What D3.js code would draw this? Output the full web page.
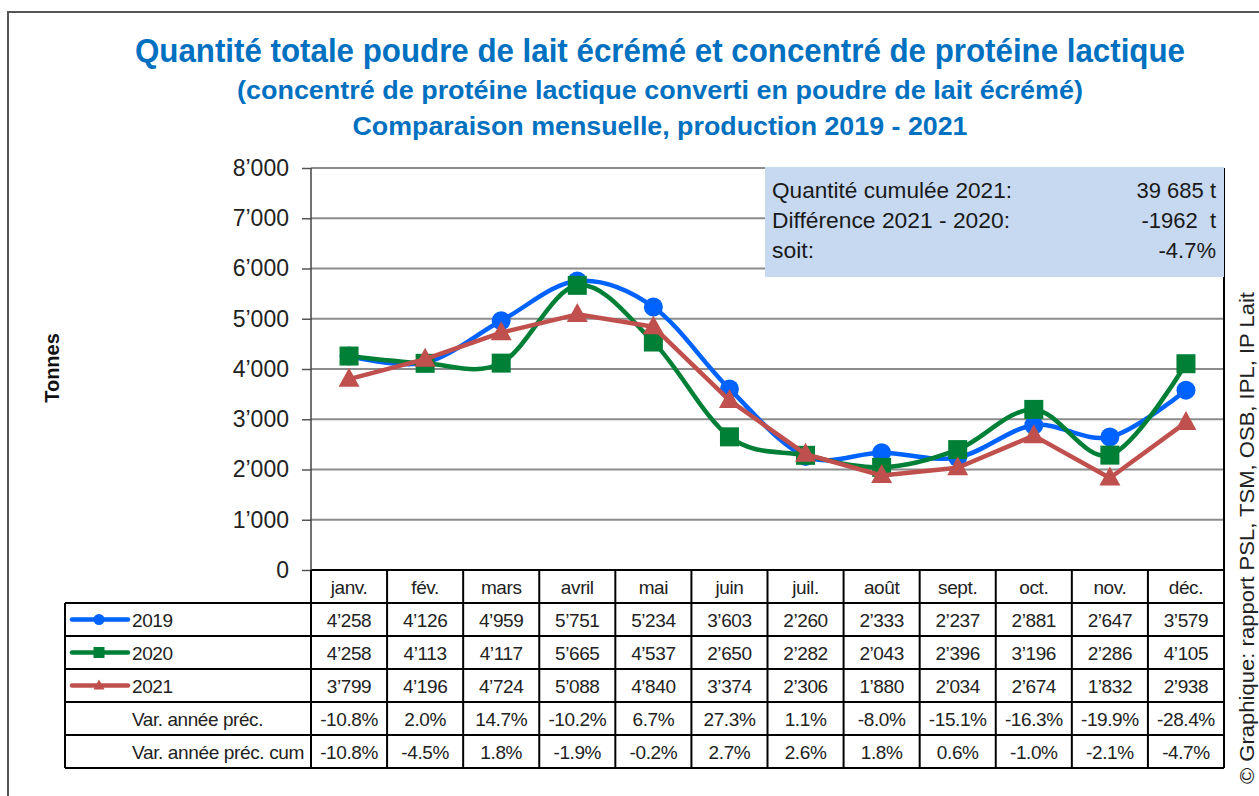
<!DOCTYPE html>
<html>
<head>
<meta charset="utf-8">
<script src="https://cdn.jsdelivr.net/npm/d3@7"></script>
<style>
  body { margin: 0; background: #fff; }
  svg { display: block; font-family: "Liberation Sans", Arial, sans-serif; }
</style>
</head>
<body>
<div id="chart"></div>
<script>
const months = ["janv.", "fév.", "mars", "avril", "mai", "juin", "juil.", "août", "sept.", "oct.", "nov.", "déc."];
const years = ["2019", "2020", "2021"];
const prod2019 = [4258, 4126, 4959, 5751, 5234, 3603, 2260, 2333, 2237, 2881, 2647, 3579];
const prod2020 = [4258, 4113, 4117, 5665, 4537, 2650, 2282, 2043, 2396, 3196, 2286, 4105];
const prod2021 = [3799, 4196, 4724, 5088, 4840, 3374, 2306, 1880, 2034, 2674, 1832, 2938];
const varPrec = [-10.8, 2.0, 14.7, -10.2, 6.7, 27.3, 1.1, -8.0, -15.1, -16.3, -19.9, -28.4];
const varCum = [-10.8, -4.5, 1.8, -1.9, -0.2, 2.7, 2.6, 1.8, 0.6, -1.0, -2.1, -4.7];
const yTicks = [0, 1000, 2000, 3000, 4000, 5000, 6000, 7000, 8000];
const titleLines = [
  "Quantité totale poudre de lait écrémé et concentré de protéine lactique",
  "(concentré de protéine lactique converti en poudre de lait écrémé)",
  "Comparaison mensuelle, production 2019 - 2021"
];
const infoLabels = ["Quantité cumulée 2021:", "Différence 2021 - 2020:", "soit:"];
const infoValues = ["39 685 t", "-1962  t", "-4.7%"];
const varLabels = ["Var. année préc.", "Var. année préc. cum"];

const series = [
  {name: years[0], values: prod2019, color: "#0062FF", shape: "circle", smooth: true},
  {name: years[1], values: prod2020, color: "#007F37", shape: "square", smooth: true},
  {name: years[2], values: prod2021, color: "#C0504D", shape: "triangle", smooth: false}
];

const W = 1259, H = 796;
const plot = {left: 311, right: 1224, top: 168, bottom: 570};
const rowH = 33;
const tableLeft = 65;
const textColor = "#222";
const titleColor = "#0070C0";

const loc = d3.formatLocale({decimal: ".", thousands: "’", grouping: [3], currency: ["", ""], minus: "-"});
const fmtInt = loc.format(",");
const fmtPct = v => loc.format(".1f")(v) + "%";

const svg = d3.select("#chart").append("svg")
  .attr("width", W).attr("height", H);

// outer frame
svg.append("path")
  .attr("d", `M8,${H} V12 H${W}`)
  .attr("fill", "none").attr("stroke", "#555").attr("stroke-width", 2);

// titles
const titleY = [62, 99, 135];
const titleSize = [33, 26, 26];
const titleW = [1050, 846, 615];
titleLines.forEach((t, i) => {
  svg.append("text")
    .attr("x", 660 - titleW[i] / 2).attr("y", titleY[i])
    .attr("textLength", titleW[i]).attr("lengthAdjust", "spacingAndGlyphs")
    .style("font-size", titleSize[i] + "px").style("font-weight", "bold")
    .style("fill", titleColor)
    .text(t);
});

const x = d3.scaleBand().domain(months).range([plot.left, plot.right]);
const y = d3.scaleLinear().domain([0, 8000]).range([plot.bottom, plot.top]);

// gridlines
svg.append("g")
  .selectAll("line").data(yTicks.filter(d => d > 0)).enter()
  .append("line")
  .attr("x1", plot.left).attr("x2", plot.right)
  .attr("y1", d => y(d)).attr("y2", d => y(d))
  .attr("stroke", "#8c8c8c").attr("stroke-width", 2);

// y axis
const yAxis = svg.append("g")
  .attr("transform", `translate(${plot.left},0)`)
  .call(d3.axisLeft(y).tickValues(yTicks).tickSize(9).tickPadding(13).tickFormat(d => fmtInt(d)));
yAxis.select(".domain").remove();
yAxis.selectAll(".tick line").attr("stroke", "#555").attr("stroke-width", 1.5);
yAxis.selectAll(".tick text")
  .style("font-size", "23px").style("fill", textColor)
  .style("font-family", "'Liberation Sans', Arial, sans-serif");

// y axis title
svg.append("text")
  .attr("transform", "translate(59,368) rotate(-90)")
  .attr("text-anchor", "middle")
  .style("font-size", "20px").style("font-weight", "bold").style("fill", "#111")
  .text("Tonnes");

// copyright
svg.append("text")
  .attr("transform", "translate(1254,784) rotate(-90)")
  .attr("textLength", 492).attr("lengthAdjust", "spacingAndGlyphs")
  .style("font-size", "20px").style("fill", textColor)
  .text("© Graphique: rapport PSL, TSM, OSB, IPL, IP Lait");

// table
const tableTop = plot.bottom;
const rows = 6; // header + 5
const tableBottom = tableTop + rowH * rows;
const tg = svg.append("g").attr("class", "table").style("letter-spacing", "-0.4px");
// horizontal lines of the body
d3.range(1, rows + 1).forEach(r => {
  tg.append("line")
    .attr("x1", tableLeft).attr("x2", plot.right)
    .attr("y1", tableTop + r * rowH).attr("y2", tableTop + r * rowH)
    .attr("stroke", "#000").attr("stroke-width", 2);
});
tg.append("line")
  .attr("x1", plot.left).attr("x2", plot.right)
  .attr("y1", tableTop).attr("y2", tableTop)
  .attr("stroke", "#000").attr("stroke-width", 2);
// vertical lines
months.forEach(m => {
  tg.append("line")
    .attr("x1", x(m)).attr("x2", x(m))
    .attr("y1", tableTop).attr("y2", tableBottom)
    .attr("stroke", "#000").attr("stroke-width", 2);
});
tg.append("line")
  .attr("x1", plot.right).attr("x2", plot.right)
  .attr("y1", plot.top).attr("y2", tableBottom)
  .attr("stroke", "#000").attr("stroke-width", 2);
tg.append("line")
  .attr("x1", tableLeft).attr("x2", tableLeft)
  .attr("y1", tableTop + rowH).attr("y2", tableBottom)
  .attr("stroke", "#000").attr("stroke-width", 2);
// plot left axis line
svg.append("line")
  .attr("x1", plot.left).attr("x2", plot.left)
  .attr("y1", plot.top).attr("y2", tableTop)
  .attr("stroke", "#444").attr("stroke-width", 1.5);

// month headers
tg.selectAll("text.month").data(months).enter()
  .append("text").attr("class", "month")
  .attr("x", d => x(d) + x.bandwidth() / 2)
  .attr("y", tableTop + rowH / 2 + 7)
  .attr("text-anchor", "middle")
  .style("font-size", "19px").style("fill", textColor)
  .text(d => d);

const tableRows = [
  prod2019.map(fmtInt), prod2020.map(fmtInt), prod2021.map(fmtInt),
  varPrec.map(fmtPct), varCum.map(fmtPct)
];
tableRows.forEach((vals, r) => {
  const cy = tableTop + (r + 1) * rowH + rowH / 2;
  tg.selectAll(null).data(vals).enter()
    .append("text")
    .attr("x", (d, i) => x(months[i]) + x.bandwidth() / 2)
    .attr("y", cy + 7)
    .attr("text-anchor", "middle")
    .style("font-size", "19px").style("fill", textColor)
    .text(d => d);
});
const varLabelW = [131, 172];
varLabels.forEach((l, i) => {
  tg.append("text")
    .attr("x", 132).attr("y", tableTop + (i + 4) * rowH + rowH / 2 + 7)
    .attr("textLength", varLabelW[i]).attr("lengthAdjust", "spacingAndGlyphs")
    .style("font-size", "19px").style("fill", textColor)
    .text(l);
});

// markers
function marker(g, shape, cx, cy, s, color) {
  if (shape === "circle") {
    g.append("circle").attr("cx", cx).attr("cy", cy).attr("r", s / 2).attr("fill", color);
  } else if (shape === "square") {
    g.append("rect").attr("x", cx - s / 2).attr("y", cy - s / 2).attr("width", s).attr("height", s).attr("fill", color);
  } else {
    const h = s * 0.9;
    g.append("path")
      .attr("d", `M${cx},${cy - h * 0.6} L${cx + s / 2},${cy + h * 0.4} L${cx - s / 2},${cy + h * 0.4}Z`)
      .attr("fill", color);
  }
}

// legend in table
series.forEach((s, i) => {
  const cy = tableTop + (i + 1) * rowH + rowH / 2;
  const lg = tg.append("g");
  lg.append("line").attr("x1", 72).attr("x2", 128).attr("y1", cy).attr("y2", cy)
    .attr("stroke", s.color).attr("stroke-width", 4.5).attr("stroke-linecap", "round");
  marker(lg, s.shape, 99, cy, 11, s.color);
  lg.append("text").attr("x", 132).attr("y", cy + 7)
    .style("font-size", "19px").style("fill", textColor).text(s.name);
});

// lines
const cx = i => x(months[i]) + x.bandwidth() / 2;
series.forEach(s => {
  const line = d3.line()
    .x((d, i) => cx(i)).y(d => y(d))
    .curve(s.smooth ? d3.curveCardinal.tension(0) : d3.curveLinear);
  const g = svg.append("g");
  g.append("path").datum(s.values)
    .attr("d", line).attr("fill", "none")
    .attr("stroke", s.color).attr("stroke-width", 4.5).attr("stroke-linejoin", "round");
  s.values.forEach((v, i) => marker(g, s.shape, cx(i), y(v), s.shape === "triangle" ? 21 : 19, s.color));
});

// info box
const box = {x: 765, y: 167, w: 459, h: 110};
svg.append("rect")
  .attr("x", box.x).attr("y", box.y).attr("width", box.w).attr("height", box.h)
  .attr("fill", "#C6D9F1");
const infoLabelW = [240, 238, 42];
infoLabels.forEach((l, i) => {
  svg.append("text").attr("x", 772).attr("y", 198 + i * 30)
    .attr("textLength", infoLabelW[i]).attr("lengthAdjust", "spacingAndGlyphs")
    .style("font-size", "22px").style("fill", "#1a1a1a").text(l);
  svg.append("text").attr("x", 1216).attr("y", 198 + i * 30)
    .attr("text-anchor", "end")
    .style("font-size", "22px").style("fill", "#1a1a1a")
    .attr("xml:space", "preserve")
    .text(infoValues[i]);
});
</script>
</body>
</html>
